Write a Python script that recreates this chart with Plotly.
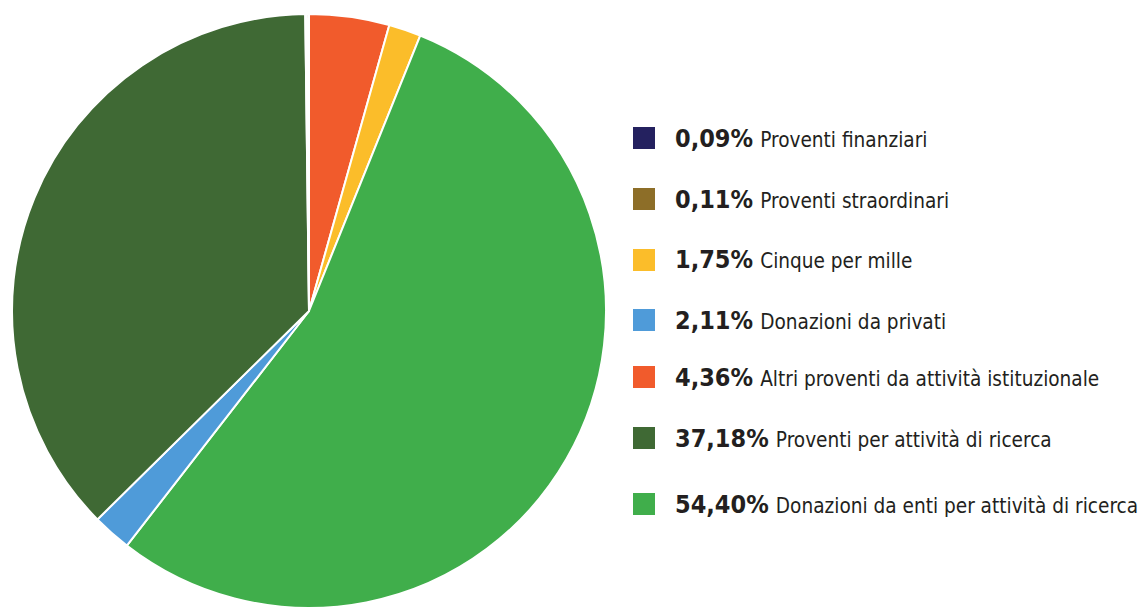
import plotly.graph_objects as go

# Revenue breakdown (percent), listed in legend order
labels = [
    "Proventi finanziari",
    "Proventi straordinari",
    "Cinque per mille",
    "Donazioni da privati",
    "Altri proventi da attività istituzionale",
    "Proventi per attività di ricerca",
    "Donazioni da enti per attività di ricerca",
]
values = [0.09, 0.11, 1.75, 2.11, 4.36, 37.18, 54.40]
colors = ["#24215f", "#8d6e28", "#fbbd2a", "#4f9bd9", "#f15b2c", "#3f6934", "#40ae4b"]

# order of slices going clockwise from 12 o'clock
slice_order = [4, 2, 6, 3, 5, 0, 1]

W, H = 1144, 608
FONT = "DejaVu Sans Condensed, DejaVu Sans, sans-serif"

fig = go.Figure()
fig.add_trace(go.Pie(
    labels=[labels[i] for i in slice_order],
    values=[values[i] for i in slice_order],
    marker=dict(colors=[colors[i] for i in slice_order],
                line=dict(color="white", width=2)),
    sort=False,
    direction="clockwise",
    rotation=0,
    textinfo="none",
    hoverinfo="label+percent",
    showlegend=False,
    domain=dict(x=[12 / W, 606 / W], y=[0, 1 - 14 / H]),
))

# legend drawn as squares + labels
row_y = [138, 199, 260, 320, 377, 438, 504]
shapes, annotations = [], []
for i, (lab, val, col) in enumerate(zip(labels, values, colors)):
    yc = row_y[i]
    shapes.append(dict(type="rect", xref="paper", yref="paper",
                       x0=633 / W, x1=655 / W,
                       y0=1 - (yc + 11) / H, y1=1 - (yc - 11) / H,
                       fillcolor=col, line=dict(width=0)))
    pct = f"{val:.2f}".replace(".", ",") + "%"
    annotations.append(dict(xref="paper", yref="paper", x=673 / W, y=1 - yc / H,
                            xanchor="left", yanchor="middle", showarrow=False,
                            text=(f"<b>{pct}</b> "
                                  f"<span style='font-size:20.6px'>{lab}</span>"),
                            font=dict(family=FONT, size=25, color="#231f20")))

fig.update_layout(
    width=W, height=H,
    margin=dict(l=0, r=0, t=0, b=0),
    paper_bgcolor="white", plot_bgcolor="white",
    shapes=shapes, annotations=annotations,
)

fig.write_html("out.html")
